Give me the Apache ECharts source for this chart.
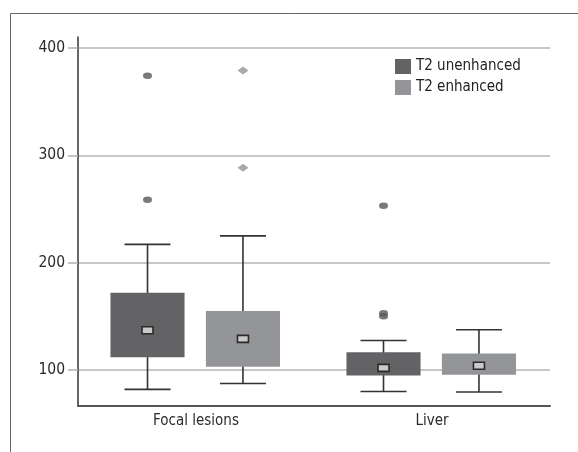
<!DOCTYPE html>
<html><head><meta charset="utf-8">
<script src="https://cdn.jsdelivr.net/npm/echarts@6/dist/echarts.min.js"></script>
<style>html,body{margin:0;padding:0;background:#fff}#c{width:578px;height:452px}</style>
</head><body><div id="c"></div>
<script>
const categories = ['Focal lesions', 'Liver'];
const seriesNames = ['T2 unenhanced', 'T2 enhanced'];
// per category: [categoryIndex, min, Q1, Q3, max, centre marker]
const unenhancedStats = [[0, 82, 112, 172, 217, 137], [1, 80, 95, 116.5, 127.5, 102]];
const enhancedStats = [[0, 87.5, 103, 155, 225, 129], [1, 79.5, 95.5, 115.5, 137.5, 104]];
// outliers: [categoryIndex, value]
const unenhancedOutliers = [[0, 374], [0, 258.5], [1, 253], [1, 150], [1, 153]];
const enhancedOutliers = [[0, 379], [0, 288.5]];
const yTicks = [100, 200, 300, 400];

const FONT = "'Liberation Sans Narrow','DejaVu Sans Condensed','Roboto Condensed',sans-serif";
const DARK = '#636365';
const LIGHT = '#949598';
const LINE = '#333';

function makeRender(offsetFrac, fill) {
  return function (params, api) {
    const cat = api.value(0);
    const band = api.size([1, 0])[0];
    const cx = api.coord([cat, 0])[0] + offsetFrac * band;
    const bw = band * 0.314;
    const cw = band * 0.195;
    const yMin = api.coord([cat, api.value(1)])[1];
    const yQ1 = api.coord([cat, api.value(2)])[1];
    const yQ3 = api.coord([cat, api.value(3)])[1];
    const yMax = api.coord([cat, api.value(4)])[1];
    const yM = api.coord([cat, api.value(5)])[1];
    const ls = { stroke: LINE, lineWidth: 1.6 };
    return {
      type: 'group',
      children: [
        { type: 'line', shape: { x1: cx, y1: yMin, x2: cx, y2: yMax }, style: ls },
        { type: 'line', shape: { x1: cx - cw / 2, y1: yMin, x2: cx + cw / 2, y2: yMin }, style: ls },
        { type: 'line', shape: { x1: cx - cw / 2, y1: yMax, x2: cx + cw / 2, y2: yMax }, style: ls },
        { type: 'rect', shape: { x: cx - bw / 2, y: yQ3, width: bw, height: yQ1 - yQ3 }, style: { fill: fill } },
        { type: 'rect', shape: { x: cx - 5.5, y: yM - 3.5, width: 11, height: 7 }, style: { fill: '#c9c9c9', stroke: '#2a2a2a', lineWidth: 1.6 } }
      ]
    };
  };
}

const OFF_U = -0.2055, OFF_E = 0.199;

const chart = echarts.init(document.getElementById('c'), null, { renderer: 'canvas' });
chart.setOption({
  animation: false,
  backgroundColor: '#fff',
  graphic: [{
    type: 'rect', left: 8, top: 11, shape: { width: 640, height: 520 },
    style: { fill: 'none', stroke: '#666', lineWidth: 1 }, silent: true, z: -10
  }],
  legend: {
    orient: 'vertical', left: 395, top: 59, padding: 0,
    itemWidth: 16, itemHeight: 15, itemGap: 6,
    icon: 'rect',
    textStyle: { fontFamily: FONT, fontSize: 15, color: '#222' },
    data: [
      { name: seriesNames[0], itemStyle: { color: DARK } },
      { name: seriesNames[1], itemStyle: { color: LIGHT } }
    ]
  },
  grid: { left: 78, right: 28, top: 37, bottom: 46 },
  xAxis: {
    type: 'category', data: categories, boundaryGap: true,
    axisLine: { lineStyle: { color: '#555', width: 2 } },
    axisTick: { show: false },
    axisLabel: { fontFamily: FONT, fontSize: 15, color: '#2a2a2a', margin: 8 }
  },
  yAxis: {
    type: 'value', min: 66.5, max: 410.2,
    axisLine: { show: true, lineStyle: { color: '#333', width: 1.5 } },
    axisTick: { show: true, length: 10, customValues: yTicks, lineStyle: { color: '#b0b0b0', width: 1.5 } },
    axisLabel: { customValues: yTicks, fontFamily: FONT, fontSize: 15.5, color: '#2a2a2a', margin: 13 },
    splitLine: { show: true, lineStyle: { color: '#b4b4b4', width: 1.5 } }
  },
  series: [
    {
      name: seriesNames[0], type: 'custom', renderItem: makeRender(OFF_U, DARK),
      itemStyle: { color: DARK },
      encode: { x: 0, y: [1, 2, 3, 4, 5] }, data: unenhancedStats, z: 3
    },
    {
      name: seriesNames[1], type: 'custom', renderItem: makeRender(OFF_E, LIGHT),
      itemStyle: { color: LIGHT },
      encode: { x: 0, y: [1, 2, 3, 4, 5] }, data: enhancedStats, z: 3
    },
    {
      name: 'unenhanced outliers', type: 'scatter', data: unenhancedOutliers,
      symbol: 'circle', symbolSize: [9, 6.5], symbolOffset: [-48.5, 0],
      itemStyle: { color: '#575757' }, z: 4
    },
    {
      name: 'enhanced outliers', type: 'scatter', data: enhancedOutliers,
      symbol: 'diamond', symbolSize: [11, 8], symbolOffset: [47, 0],
      itemStyle: { color: '#959595' }, z: 4
    }
  ]
});
</script></body></html>
